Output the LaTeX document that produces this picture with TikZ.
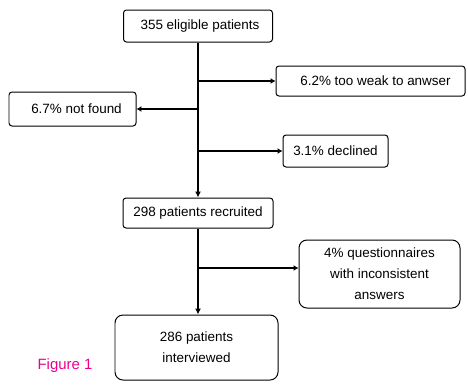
\documentclass[tikz,border=0pt]{standalone}
\usepackage{fontspec}
\setmainfont{Liberation Sans}
\usetikzlibrary{arrows.meta}
\begin{document}
\begin{tikzpicture}[x=1bp,y=-1bp,
  box/.style={draw, line width=1pt, rounded corners=3pt, inner sep=0pt,
    font=\fontsize{13.5}{21}\selectfont, align=center},
  rbox/.style={box, rounded corners=8pt},
  stem/.style={line width=1.3pt, -{Latex[length=6pt,width=6pt]}},
  branch/.style={line width=2.6pt, -{Latex[length=5pt,width=6pt]}},
  figlabel/.style={font=\fontsize{15}{17}\selectfont, text=magenta}]
\useasboundingbox (0,0) rectangle (468,385);
\node[box, minimum width=149bp, minimum height=32bp] (top) at (198,26) {\hspace*{4bp}355 eligible patients};
\node[box, minimum width=189bp, minimum height=30bp] (weak) at (370.5,81) {\hspace*{10bp}6.2\% too weak to anwser};
\node[box, minimum width=127bp, minimum height=34bp] (notfound) at (72.5,109) {\hspace*{8bp}6.7\% not found};
\node[box, minimum width=105bp, minimum height=32bp] (declined) at (335.5,151) {3.1\% declined};
\node[box, minimum width=150bp, minimum height=30bp] (recruited) at (198,213) {298 patients recruited};
\node[rbox, minimum width=161bp, minimum height=68bp] (quest) at (379.5,274) {4\% questionnaires\\with inconsistent\\answers};
\node[rbox, minimum width=163bp, minimum height=65bp] (interviewed) at (196.5,347.5) {286 patients\\interviewed};
\node[figlabel] (fig) at (65,366) {Figure 1};
\coordinate (q) at (198,268);
\draw[stem] (top.south) -- (recruited.north);
\draw[stem] (recruited.south) -- (recruited.south |- interviewed.north);
\draw[branch] (weak.west -| top.south) -- (weak.west);
\draw[branch] (notfound.east -| top.south) -- (notfound.east);
\draw[branch] (declined.west -| top.south) -- (declined.west);
\draw[branch] (q) -- (q -| quest.west);
\end{tikzpicture}
\end{document}
